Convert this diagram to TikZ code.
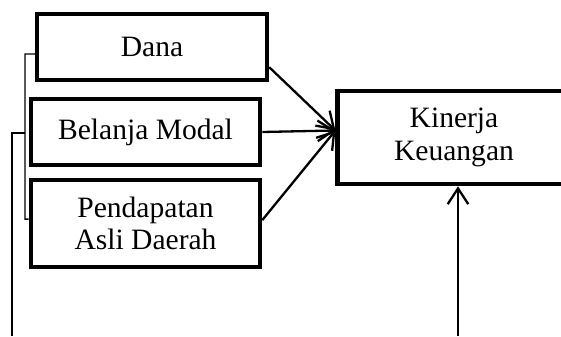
\documentclass[tikz,border=0pt]{standalone}
\usepackage{fontspec}
\setmainfont{Liberation Serif}
\usetikzlibrary{arrows.meta}
\tikzset{
	varbox/.style={draw, line width=1.9pt, align=center, inner sep=2pt,
		font=\fontsize{12.2}{13.4}\selectfont},
	arr/.style={line width=0.95pt, -{Straight Barb[length=6.5pt,width=8.5pt]}},
	link/.style={line width=0.55pt}
}
\begin{document}
\begin{tikzpicture}[x=0.4128pt,y=-0.4128pt]
	\useasboundingbox (0,0) rectangle (561,336);
	% variabel
	\node[varbox, minimum width=94.9pt, minimum height=27.2pt] (dana) at (152,47) {Dana};
	\node[varbox, minimum width=94.5pt, minimum height=27.2pt] (modal) at (145.5,132) {Belanja Modal};
	\node[varbox, minimum width=94.5pt, minimum height=35.9pt] (pad) at (145.5,223.5) {Pendapatan\\Asli Daerah};
	\node[varbox, minimum width=96pt, minimum height=38.4pt] (kinerja) at (454,137.5) {Kinerja\\Keuangan};
	% panah
	\draw[arr] ([yshift=6.2pt]dana.south east) -- ([yshift=2.9pt]kinerja.west);
	\draw[arr] (modal.east) -- ([yshift=2.9pt]kinerja.west);
	\draw[arr] ([yshift=1.4pt]pad.east) -- ([yshift=2.9pt]kinerja.west);
	% kurung kiri
	\coordinate (kiri) at (12,336);
	\coordinate (bawah) at (458,336);
	\draw[link] ([yshift=-2.9pt]dana.west) -- (25,54) |- ([yshift=1.8pt]pad.west);
	\draw[link] (25,133) -- (12,133) -- (kiri);
	\draw[arr] (bawah) -- (kinerja.south -| bawah);
\end{tikzpicture}
\end{document}
